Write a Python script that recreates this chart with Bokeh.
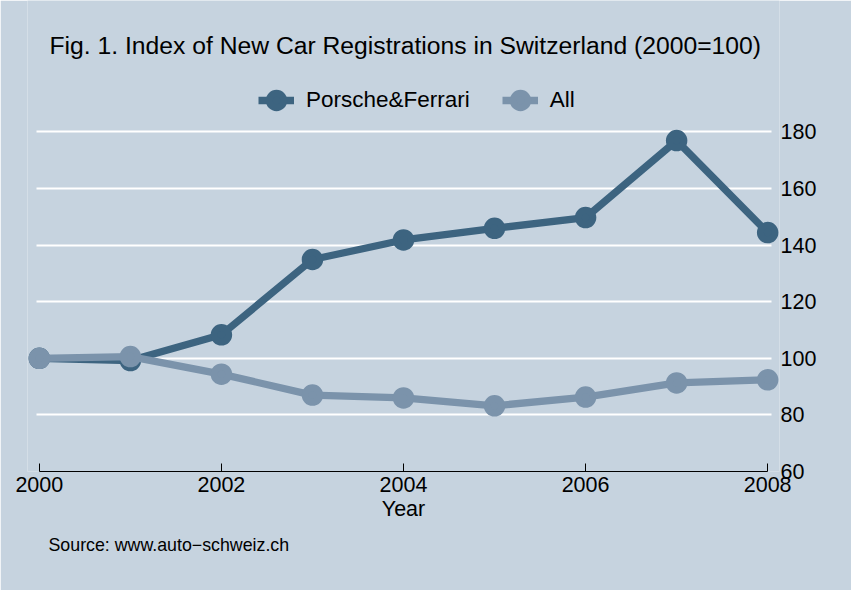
from bokeh.plotting import figure
from bokeh.models import Legend, LegendItem, Label, FixedTicker, Range1d, Title
from bokeh.embed import file_html
from bokeh.resources import INLINE

# ---- data ----
years = [2000, 2001, 2002, 2003, 2004, 2005, 2006, 2007, 2008]
porsche_ferrari = [100, 99.2, 108.3, 134.9, 141.8, 145.9, 149.7, 176.9, 144.4]
all_cars = [100, 100.6, 94.4, 87.0, 86.0, 83.2, 86.3, 91.3, 92.4]
x_ticks = [2000, 2002, 2004, 2006, 2008]
y_ticks = [60, 80, 100, 120, 140, 160, 180]
grid_ticks = [80, 100, 120, 140, 160, 180]
series_names = ["Porsche&Ferrari", "All"]
title_text = "Fig. 1. Index of New Car Registrations in Switzerland (2000=100)"
source_text = "Source: www.auto\u2212schweiz.ch"
x_label = "Year"

# ---- style ----
colors = ["#3d6480", "#7b93ab"]
BG = "#c6d3df"
FONT = "Liberation Sans"

p = figure(
    frame_width=752, frame_height=471,
    x_range=Range1d(1999.87, 2008.13), y_range=Range1d(60, 226.4),
    y_axis_location="right",
    output_backend="svg", toolbar_location=None,
    min_border_left=27, min_border_right=72, min_border_top=0, min_border_bottom=119,
    background_fill_color=BG, border_fill_color=BG, outline_line_color=None,
)

# grid
p.xgrid.visible = False
p.ygrid.ticker = FixedTicker(ticks=grid_ticks)
p.ygrid.grid_line_color = "white"
p.ygrid.grid_line_width = 2
p.ygrid.cross_bounds = (1999.967, 2008.043)

# x axis
xa = p.xaxis[0]
xa.ticker = FixedTicker(ticks=x_ticks)
xa.bounds = (years[0], years[-1])
xa.axis_line_color = "black"
xa.axis_line_width = 1
xa.major_tick_in = 8
xa.major_tick_out = 0
xa.major_tick_line_color = "black"
xa.minor_tick_line_color = None
xa.major_label_standoff = 5
xa.major_label_text_font = FONT
xa.major_label_text_font_size = "21.5px"
xa.major_label_text_color = "black"
xa.axis_label = x_label
xa.axis_label_text_font = FONT
xa.axis_label_text_font_size = "21.5px"
xa.axis_label_text_font_style = "normal"
xa.axis_label_text_color = "black"
xa.axis_label_standoff = 2

# y axis (right)
ya = p.yaxis[0]
ya.ticker = FixedTicker(ticks=y_ticks)
ya.axis_line_color = None
ya.major_tick_line_color = None
ya.minor_tick_line_color = None
ya.major_tick_out = 0
ya.major_tick_in = 0
ya.major_label_standoff = 1
ya.major_label_text_font = FONT
ya.major_label_text_font_size = "21.5px"
ya.major_label_text_color = "black"

# series
r_pl = p.line(years, porsche_ferrari, line_color=colors[0], line_width=7.3)
r_ps = p.scatter(years, porsche_ferrari, size=14.5, fill_color=colors[0],
                 line_color=colors[0], line_width=7)
r_al = p.line(years, all_cars, line_color=colors[1], line_width=7.3)
r_as = p.scatter(years, all_cars, size=14.5, fill_color=colors[1],
                 line_color=colors[1], line_width=7)

legend = Legend(
    items=[LegendItem(label=series_names[0], renderers=[r_pl, r_ps]),
           LegendItem(label=series_names[1], renderers=[r_al, r_as])],
    orientation="horizontal", location=(231, 353),
    glyph_width=36, glyph_height=36, label_standoff=12, spacing=32,
    padding=0, margin=0,
    label_text_font=FONT, label_text_font_size="22.5px", label_text_color="black",
    background_fill_alpha=0, border_line_color=None,
)
p.add_layout(legend, "center")

p.add_layout(Label(x=22, y=426, x_units="screen", y_units="screen", text=title_text,
                   text_font=FONT, text_font_size="24.7px", text_color="black",
                   text_baseline="alphabetic", text_align="left"))

src = Title(text=source_text, align="left", offset=21, standoff=22,
            vertical_align="top",
            text_font=FONT, text_font_size="17.8px", text_color="black",
            text_font_style="normal")
p.add_layout(src, "below")

open("out.html", "w").write(file_html(p, INLINE))
